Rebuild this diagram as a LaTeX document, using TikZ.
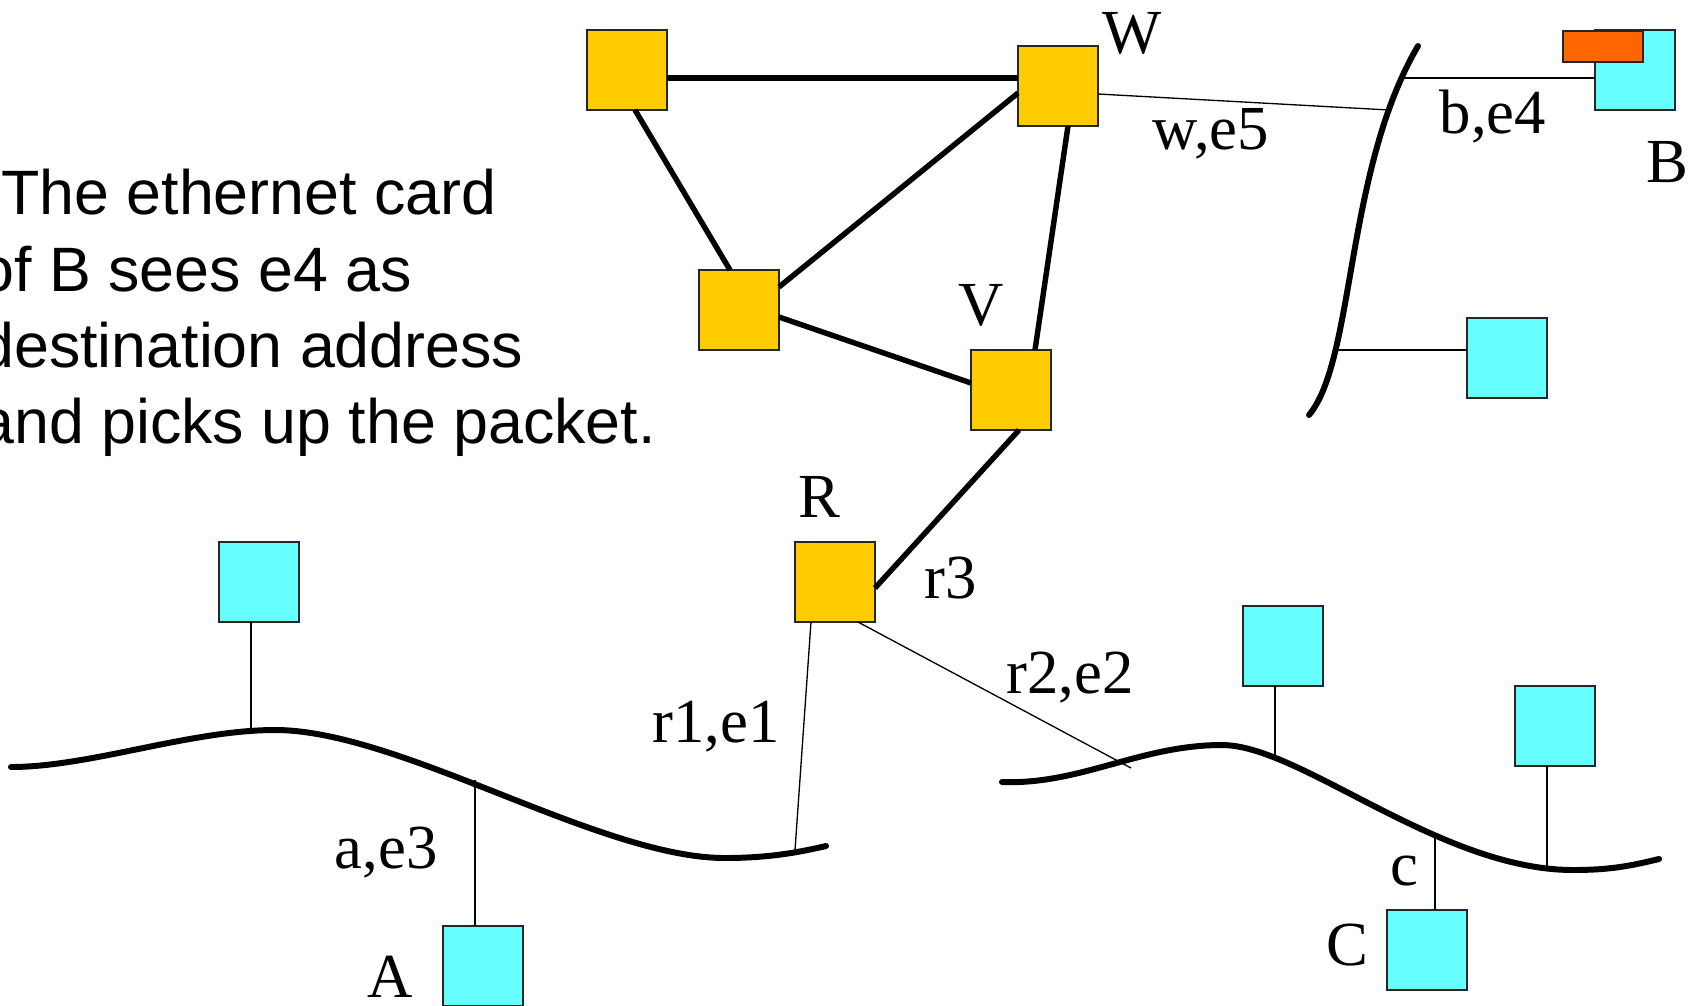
\documentclass[tikz,border=0pt]{standalone}
\usepackage{fontspec}
\setmainfont{Liberation Serif}
\newfontfamily\notefont{Liberation Sans}
\usetikzlibrary{calc}
\definecolor{router}{HTML}{FFCC00}
\definecolor{host}{HTML}{66FFFF}
\definecolor{nic}{HTML}{FF6600}
\begin{document}
\begin{tikzpicture}[x=0.02cm,y=-0.02cm,
  box/.style={draw=black!85,line width=1.1pt,minimum width=1.6cm,minimum height=1.6cm,inner sep=0pt,outer sep=0pt},
  rbox/.style={box,fill=router},
  hbox/.style={box,fill=host},
  link/.style={line width=3.1pt},
  wire/.style={line width=0.75pt},
  bus/.style={line width=3.4pt,line cap=round},
  lab/.style={font=\fontsize{35.7pt}{40pt}\selectfont,anchor=base,inner sep=0pt},
  note/.style={font=\notefont\fontsize{35.7pt}{43.5pt}\selectfont,anchor=base west,inner sep=0pt}]
\useasboundingbox (0,0) rectangle (1690,1005);

% buses
\draw[bus] (1418,46) .. controls (1345,170) and (1355,360) .. (1309,415);
\draw[bus] (11,767) .. controls (90,767) and (190,730) .. (275,730)
  .. controls (400,730) and (600,858) .. (725,858)
  .. controls (770,858) and (800,852) .. (826,846);
\draw[bus] (1002,782) .. controls (1080,785) and (1140,745) .. (1222,745)
  .. controls (1300,745) and (1440,870) .. (1573,870)
  .. controls (1610,870) and (1630,866) .. (1659,859);

% routers
\node[rbox] (Y1) at (627,70) {};
\node[rbox] (Y2) at (739,310) {};
\node[rbox] (W) at (1058,86) {};
\node[rbox] (V) at (1011,390) {};
\node[rbox] (R) at (835,582) {};
% hosts
\node[hbox] (B) at (1635,70) {};
\node[draw=black!85,line width=1.1pt,fill=nic,minimum width=1.6cm,minimum height=0.62cm,inner sep=0pt] (Bnic) at (1603,46.5) {};
\node[hbox] (D) at (1507,358) {};
\node[hbox] (E) at (259,582) {};
\node[hbox] (A) at (483,966) {};
\node[hbox] (F) at (1283,646) {};
\node[hbox] (G) at (1555,726) {};
\node[hbox] (C) at (1427,950) {};

% router links
\draw[link] ($(Y1.east)+(0,8)$) -- ($(W.west)+(0,-8)$);
\draw[link] ($(Y1.south)+(8,0)$) -- ($(Y2.north)+(-9,0)$);
\draw[link] ($(Y2.east)+(0,-23)$) -- ($(W.west)+(0,7)$);
\draw[link] ($(Y2.east)+(0,7)$) -- ($(V.west)+(0,-7)$);
\draw[link] ($(W.south)+(10,0)$) -- ($(V.north)+(24,0)$);
\draw[link] ($(V.south)+(8,0)$) -- ($(R.east)+(0,6)$);

% bus attachment points
\coordinate (bw) at (1389,110);
\coordinate (bb) at (1401,78);
\coordinate (bd) at (1336,350);
\coordinate (l1) at (795,850);
\coordinate (l2) at (1131,768);
\coordinate (le) at (251,731);
\coordinate (la) at (475,780);
\coordinate (lf) at (1275,756);
\coordinate (lg) at (1547,866);
\coordinate (lc) at (1435,833);

% wires
\draw[wire] ($(W.east)+(0,8)$) -- (bw);
\draw[wire] (bb) -- ($(B.west)+(0,8)$);
\draw[wire] (bd) -- ($(D.west)+(0,-8)$);
\draw[wire] ($(R.south)+(-24,0)$) -- (l1);
\draw[wire] ($(R.south)+(23,0)$) -- (l2);
\draw[wire] ($(E.south)+(-8,0)$) -- (le);
\draw[wire] ($(A.north)+(-8,0)$) -- (la);
\draw[wire] ($(F.south)+(-8,0)$) -- (lf);
\draw[wire] ($(G.south)+(-8,0)$) -- (lg);
\draw[wire] ($(C.north)+(8,0)$) -- (lc);

% labels
\node[lab] (lW) at (1132,53) {W};
\node[lab] (lV) at (981,325) {V};
\node[lab] (lR) at (819,517) {R};
\node[lab] (lr3) at (951,598) {r3};
\node[lab] (lr2) at (1070,693) {r2,e2};
\node[lab] (lr1) at (716,742) {r1,e1};
\node[lab] (la3) at (386,868) {a,e3};
\node[lab] (lA) at (390,997) {A};
\node[lab] (lc3) at (1404,885) {c};
\node[lab] (lC) at (1347,965) {C};
\node[lab] (lw5) at (1211,149) {w,e5};
\node[lab] (lb4) at (1493,133) {b,e4};
\node[lab] (lB) at (1667,182) {B};

% note
\node[note] (n1) at (1,214) {The ethernet card};
\node[note] (n2) at (-21,291) {of B sees e4 as};
\node[note] (n3) at (-21,367) {destination address};
\node[note] (n4) at (-21,443) {and picks up the packet.};
\end{tikzpicture}
\end{document}
